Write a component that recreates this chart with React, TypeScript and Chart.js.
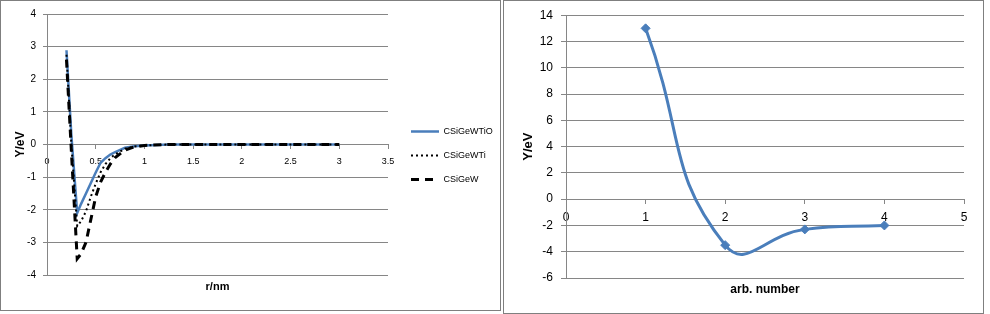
import React, { useEffect, useRef } from 'react';
import { Chart, registerables } from 'chart.js';

Chart.register(...registerables);

// ---------- Left chart data ----------
const rValues = [0.2, 0.25, 0.31, 0.35, 0.4, 0.45, 0.5, 0.55, 0.6, 0.65, 0.7, 0.8, 0.9, 1.0, 1.25, 1.5, 1.75, 2.0, 2.25, 2.5, 2.75, 3.0];
const seriesNames = ['CSiGeWTiO', 'CSiGeWTi', 'CSiGeW'];
const csigewtio = [2.89, 0.3, -2.1, -1.82, -1.5, -1.18, -0.86, -0.56, -0.42, -0.31, -0.23, -0.1, -0.05, -0.03, 0, 0, 0, 0, 0, 0, 0, 0];
const csigewti = [2.75, 0.0, -2.5, -2.35, -2.05, -1.6, -1.2, -0.85, -0.6, -0.42, -0.3, -0.13, -0.06, -0.03, 0, 0, 0, 0, 0, 0, 0, 0];
const csigew = [2.6, -0.2, -3.5, -3.35, -3.0, -2.3, -1.6, -1.15, -0.85, -0.6, -0.4, -0.17, -0.07, -0.03, 0, 0, 0, 0, 0, 0, 0, 0];

// ---------- Right chart data ----------
const arbNumbers = [1, 2, 3, 4];
const arbValues = [13, -3.5, -2.3, -2.0];

const BLUE = '#4A7EBB';
const GRID = '#868686';
const FONT = "'Liberation Sans', Arial, sans-serif";

const plainNumber = (v: any) => String(Math.round(Number(v) * 100) / 100);

function LeftChart() {
  const ref = useRef<HTMLCanvasElement>(null);
  useEffect(() => {
    const seriesValues = [csigewtio, csigewti, csigew];
    const styles = [
      { color: BLUE, width: 2.5, dash: [] as number[], order: 2 },
      { color: '#000000', width: 2, dash: [2, 3], order: 1 },
      { color: '#000000', width: 3, dash: [8, 6], order: 0 },
    ];
    const chart = new Chart(ref.current as HTMLCanvasElement, {
      type: 'line',
      data: {
        datasets: seriesNames.map((name, k) => ({
          label: name,
          data: rValues.map((r, i) => ({ x: r, y: seriesValues[k][i] })),
          borderColor: styles[k].color,
          backgroundColor: styles[k].color,
          borderWidth: styles[k].width,
          borderDash: styles[k].dash,
          pointRadius: 0,
          tension: 0,
          order: styles[k].order,
        })),
      },
      options: {
        animation: false,
        responsive: false,
        layout: { padding: { top: 14, left: 0, right: 5, bottom: 14 } },
        scales: {
          x: {
            type: 'linear',
            position: { y: 0 } as any,
            min: 0,
            max: 3.5,
            ticks: { stepSize: 0.5, color: '#000', padding: 8, maxRotation: 0, autoSkip: false, font: { family: FONT, size: 9 }, callback: plainNumber },
            grid: { drawOnChartArea: false, drawTicks: true, tickLength: 4, color: GRID },
            border: { color: GRID },
          },
          y: {
            type: 'linear',
            position: 'left',
            min: -4,
            max: 4,
            ticks: { stepSize: 1, color: '#000', padding: 7, font: { family: FONT, size: 10 }, callback: plainNumber },
            grid: { color: GRID, tickLength: 4 },
            border: { color: GRID },
            title: { display: true, text: 'Y/eV', color: '#000', font: { family: FONT, size: 12, weight: 'bold' }, padding: { top: 13, bottom: 0 } },
            afterFit: (s: any) => { s.width = 47; },
          },
          yPad: {
            type: 'linear',
            position: 'right',
            display: true,
            grid: { display: false },
            border: { display: false },
            ticks: { display: false },
            afterFit: (s: any) => { s.width = 8; },
          },
        },
        plugins: {
          legend: {
            position: 'right',
            maxWidth: 100,
            labels: {
              usePointStyle: true,
              pointStyleWidth: 28,
              boxWidth: 28,
              boxHeight: 9,
              padding: 15,
              color: '#000',
              font: { family: FONT, size: 9 },
              generateLabels: (c: any) =>
                c.data.datasets.map((ds: any, i: number) => ({
                  text: ds.label,
                  fillStyle: ds.borderColor,
                  strokeStyle: ds.borderColor,
                  fontColor: '#000',
                  lineWidth: ds.borderWidth,
                  lineDash: ds.borderDash,
                  lineCap: 'butt',
                  pointStyle: 'line',
                  hidden: false,
                  datasetIndex: i,
                })),
            },
          },
          title: {
            display: true,
            text: 'r/nm',
            position: 'bottom',
            fullSize: false,
            color: '#000',
            font: { family: FONT, size: 11, weight: 'bold' },
            padding: { top: 5, bottom: 3.8 },
          },
          tooltip: { enabled: false },
        },
      } as any,
    });
    return () => chart.destroy();
  }, []);
  return <canvas ref={ref} width={501} height={311} style={{ display: 'block' }} />;
}

function RightChart() {
  const ref = useRef<HTMLCanvasElement>(null);
  useEffect(() => {
    const chart = new Chart(ref.current as HTMLCanvasElement, {
      type: 'line',
      data: {
        datasets: [
          {
            label: 'Y',
            data: arbNumbers.map((n, i) => ({ x: n, y: arbValues[i] })),
            borderColor: BLUE,
            backgroundColor: BLUE,
            borderWidth: 3,
            tension: 0.5,
            pointStyle: 'rectRot',
            pointRadius: 4.5,
            pointBorderWidth: 1,
            pointBackgroundColor: BLUE,
            pointBorderColor: BLUE,
          },
        ],
      },
      options: {
        animation: false,
        responsive: false,
        layout: { padding: { top: 14, left: 0, right: 20, bottom: 0 } },
        scales: {
          x: {
            type: 'linear',
            position: { y: 0 } as any,
            min: 0,
            max: 5,
            ticks: { stepSize: 1, color: '#000', padding: 7, maxRotation: 0, autoSkip: false, font: { family: FONT, size: 12 }, callback: plainNumber },
            grid: { drawOnChartArea: false, drawTicks: true, tickLength: 4, color: GRID },
            border: { color: GRID },
          },
          y: {
            type: 'linear',
            position: 'left',
            min: -6,
            max: 14,
            ticks: { stepSize: 2, color: '#000', padding: 8, font: { family: FONT, size: 12 }, callback: plainNumber },
            grid: { color: GRID, tickLength: 5 },
            border: { color: GRID },
            title: { display: true, text: 'Y/eV', color: '#000', font: { family: FONT, size: 13, weight: 'bold' }, padding: { top: 18, bottom: 0 } },
            afterFit: (s: any) => { s.width = 63; },
          },
        },
        plugins: {
          legend: { display: false },
          title: {
            display: true,
            text: 'arb. number',
            position: 'bottom',
            fullSize: false,
            color: '#000',
            font: { family: FONT, size: 12, weight: 'bold' },
            padding: { top: 4, bottom: 17.6 },
          },
          tooltip: { enabled: false },
        },
      } as any,
    });
    return () => chart.destroy();
  }, []);
  return <canvas ref={ref} width={481} height={314} style={{ display: 'block' }} />;
}

export default function App() {
  const border = '1px solid #7f7f7f';
  return (
    <div style={{ position: 'absolute', left: 0, top: 0, width: 990, height: 314, background: '#fff', overflow: 'hidden' }}>
      <div style={{ position: 'absolute', left: 0, top: 0, width: 501, height: 311 }}>
        <LeftChart />
        <div style={{ position: 'absolute', left: 0, top: 0, width: 501, height: 311, border, boxSizing: 'border-box', pointerEvents: 'none' }} />
      </div>
      <div style={{ position: 'absolute', left: 503, top: 0, width: 481, height: 314 }}>
        <RightChart />
        <div style={{ position: 'absolute', left: 0, top: 0, width: 481, height: 314, border, boxSizing: 'border-box', pointerEvents: 'none' }} />
      </div>
    </div>
  );
}
